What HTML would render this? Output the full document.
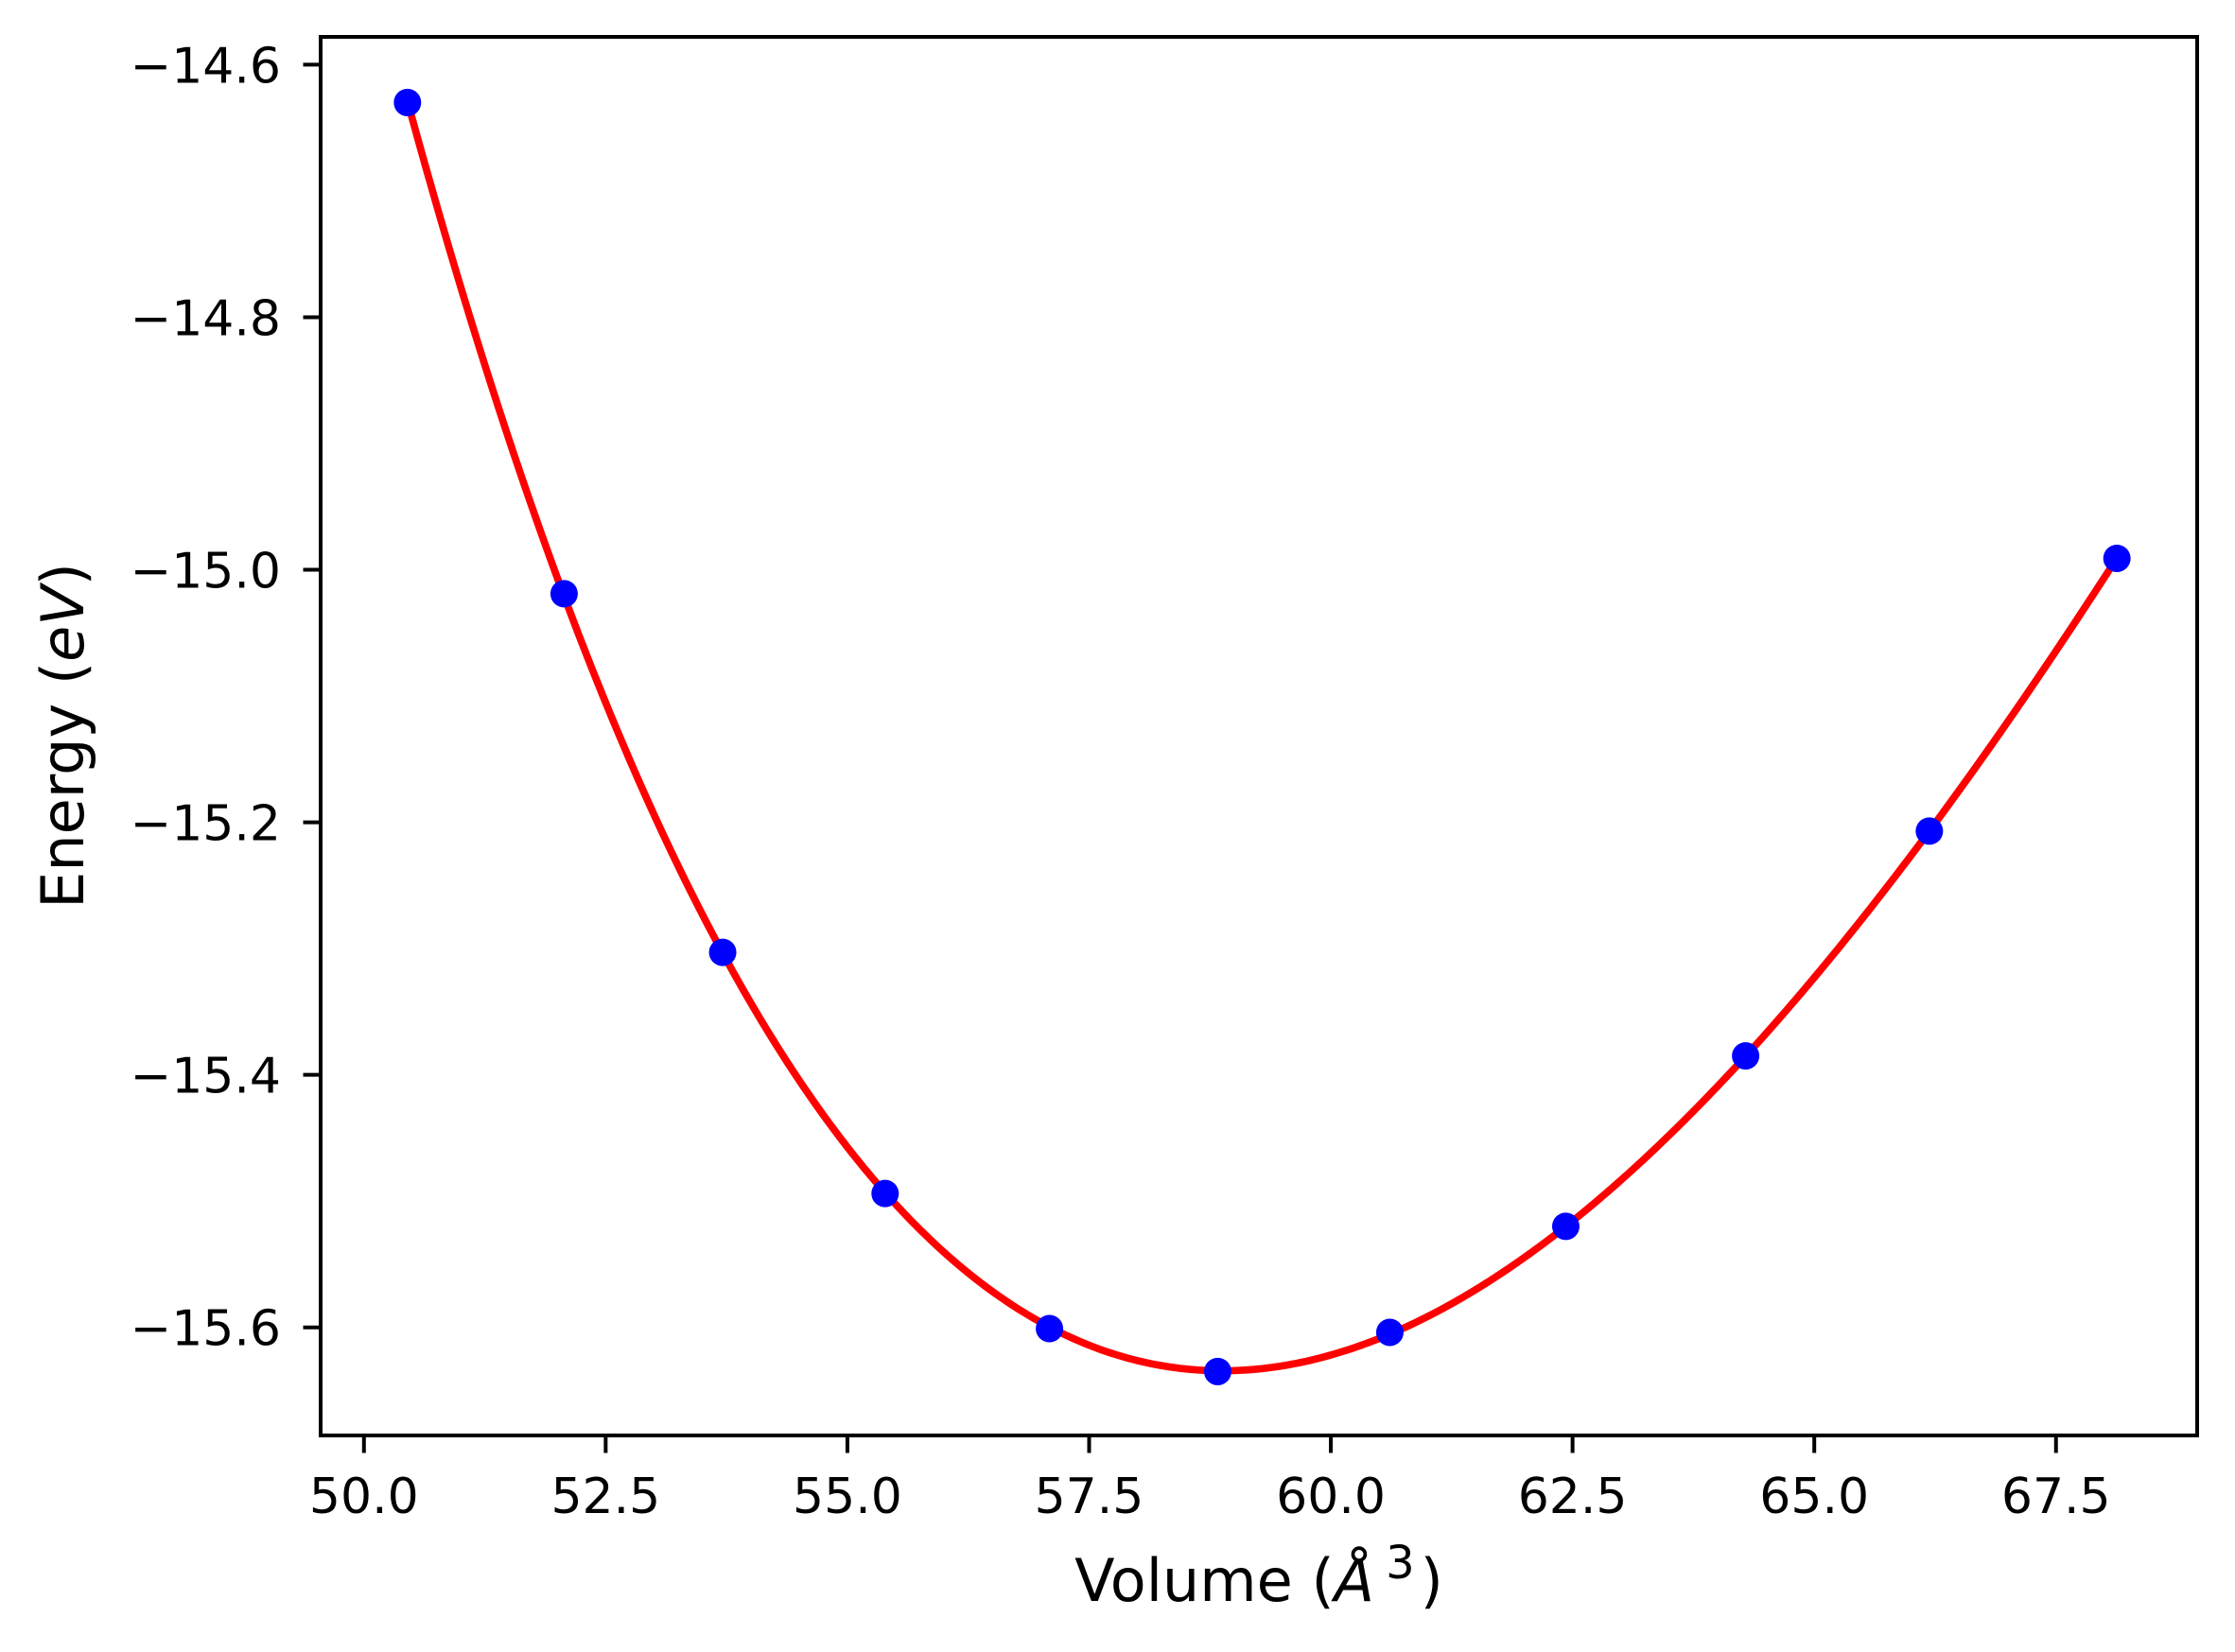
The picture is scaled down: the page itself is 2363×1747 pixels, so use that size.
<!DOCTYPE html>
<html><head><meta charset="utf-8"><style>
html,body{margin:0;padding:0;background:#fff;}
svg{display:block;font-family:"DejaVu Sans","Liberation Sans",sans-serif;}
</style></head><body>
<svg id="chart" width="2363" height="1747" viewBox="0 0 2363 1747" xmlns="http://www.w3.org/2000/svg">
<rect x="0" y="0" width="2363" height="1747" fill="#fff"/>
<g id="plot"></g>
</svg>
<script>
const volumes = [50.45, 52.07, 53.71, 55.39, 57.09, 58.83, 60.61, 62.43, 64.29, 66.19, 68.13];
const energies = [-14.630, -15.019, -15.303, -15.494, -15.601, -15.635, -15.604, -15.520, -15.385, -15.207, -14.991];
const xTicks = [50.0, 52.5, 55.0, 57.5, 60.0, 62.5, 65.0, 67.5];
const xTickLabels = ["50.0", "52.5", "55.0", "57.5", "60.0", "62.5", "65.0", "67.5"];
const yTicks = [-14.6, -14.8, -15.0, -15.2, -15.4, -15.6];
const yTickLabels = ["\u221214.6", "\u221214.8", "\u221215.0", "\u221215.2", "\u221215.4", "\u221215.6"];

const NS = "http://www.w3.org/2000/svg";
const L = 339, R = 2323, T = 39, B = 1518;
const xMin = 49.552, xMax = 68.96, yMin = -15.6856, yMax = -14.578;
function xs(v){ return L + (v - xMin) / (xMax - xMin) * (R - L); }
function ys(v){ return B - (v - yMin) / (yMax - yMin) * (B - T); }
const g = document.getElementById('plot');
function mk(tag, attrs){ const e = document.createElementNS(NS, tag); for (const k in attrs) e.setAttribute(k, attrs[k]); g.appendChild(e); return e; }

const n = 4;
const A = Array.from({length:n}, () => new Array(n + 1).fill(0));
for (let i = 0; i < volumes.length; i++) {
  const t = Math.pow(volumes[i], -2/3);
  const p = []; for (let k = 0; k < n; k++) p.push(Math.pow(t, k));
  for (let r = 0; r < n; r++) { for (let c = 0; c < n; c++) A[r][c] += p[r] * p[c]; A[r][n] += p[r] * energies[i]; }
}
for (let c = 0; c < n; c++) {
  let piv = c; for (let r = c + 1; r < n; r++) if (Math.abs(A[r][c]) > Math.abs(A[piv][c])) piv = r;
  [A[c], A[piv]] = [A[piv], A[c]];
  for (let r = 0; r < n; r++) { if (r === c) continue; const f = A[r][c] / A[c][c]; for (let k = c; k <= n; k++) A[r][k] -= f * A[c][k]; }
}
const coef = A.map((row, i) => row[n] / row[i]);
function fitE(v){ const t = Math.pow(v, -2/3); let s = 0; for (let k = 0; k < n; k++) s += coef[k] * Math.pow(t, k); return s; }

const v0 = Math.min(...volumes), v1 = Math.max(...volumes);
let d = "";
for (let i = 0; i <= 400; i++) { const v = v0 + (v1 - v0) * i / 400; d += (i ? "L" : "M") + xs(v).toFixed(2) + "," + ys(fitE(v)).toFixed(2); }
const curve = mk('path', {d: d, fill: 'none', stroke: '#ff0000', 'stroke-width': 7.7, 'stroke-linejoin': 'round', 'stroke-linecap': 'butt'});



for (let i = 0; i < volumes.length; i++) {
  const c = mk('circle', {cx: xs(volumes[i]), cy: ys(energies[i]), r: 14.5, fill: '#0000ff'});
  
  
}

const frame = mk('rect', {x: L, y: T, width: R - L, height: B - T, fill: 'none', stroke: '#000', 'stroke-width': 4});



for (let i = 0; i < xTicks.length; i++) {
  const x = xs(xTicks[i]);
  const tk = mk('line', {x1: x, x2: x, y1: B, y2: B + 18.5, stroke: '#000', 'stroke-width': 4});
  
  
  const tx = mk('text', {x: x, y: 1600, 'text-anchor': 'middle', 'font-size': 52, fill: '#000'});
  tx.textContent = xTickLabels[i];
  
  
}
for (let i = 0; i < yTicks.length; i++) {
  const y = ys(yTicks[i]);
  const tk = mk('line', {x1: L - 18.5, x2: L, y1: y, y2: y, stroke: '#000', 'stroke-width': 4});
  
  
  const tx = mk('text', {x: 297, y: y + 19, 'text-anchor': 'end', 'font-size': 52, fill: '#000'});
  tx.textContent = yTickLabels[i];
  
  
}
</script>
<svg style="position:absolute;left:0;top:0" width="2363" height="1747" xmlns="http://www.w3.org/2000/svg" font-family="DejaVu Sans, Liberation Sans, sans-serif">
<text x="1331" y="1693" text-anchor="middle" font-size="62" fill="#000">Volume (<tspan font-style="italic">Å</tspan><tspan font-size="48" dx="12" dy="-24">3</tspan><tspan dx="6" dy="24">)</tspan></text>
<text transform="translate(88,778) rotate(-90)" text-anchor="middle" font-size="62" fill="#000">Energy (<tspan font-style="italic">eV</tspan>)</text>
</svg>
</body></html>
